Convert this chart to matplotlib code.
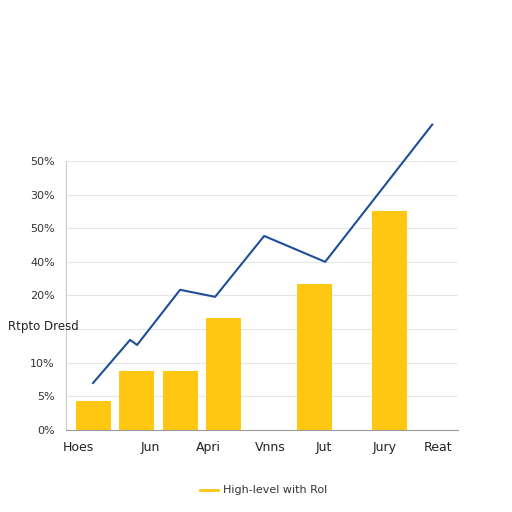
import matplotlib
matplotlib.use("Agg")
import matplotlib.pyplot as plt

ytick_labels = ["0%", "5%", "10%", "", "20%", "40%", "50%", "30%", "50%"]
xtick_labels = ["Hoes", "Jun", "Apri", "Vnns", "Jut", "Jury", "Reat"]
xtick_pos = [0.24, 1.68, 2.84, 4.08, 5.16, 6.36, 7.44]
bar_x = [0.54, 1.4, 2.28, 3.14, 4.96, 6.46]
bar_h = [0.86, 1.76, 1.76, 3.33, 4.35, 6.52]
line_x = [0.54, 1.28, 1.42, 2.28, 2.98, 3.96, 5.18, 7.32]
line_y = [1.4, 2.68, 2.53, 4.17, 3.96, 5.77, 5.0, 9.08]

fig = plt.figure(figsize=(5.12, 5.12), dpi=100)
ax = fig.add_axes([0.129, 0.16, 0.766, 0.598])
ax.set_xlim(0, 7.84)
ax.set_ylim(0, 9.1)
ax.set_yticks(range(9))
ax.set_yticklabels(ytick_labels, fontsize=8, color="#333")
ax.set_xticks(xtick_pos)
ax.set_xticklabels(xtick_labels, fontsize=9, color="#222")
ax.tick_params(length=0, pad=8)
for y in range(1, 9):
    ax.axhline(y, color="#e6e6e6", lw=0.8, zorder=0)
for s in ["top", "right"]:
    ax.spines[s].set_visible(False)
ax.spines["left"].set_bounds(0, 8)
ax.spines["left"].set_color("#cccccc")
ax.spines["bottom"].set_color("#999999")
ax.bar(bar_x, bar_h, width=0.7, color="#FFC712", zorder=2)
ax.plot(line_x, line_y, color="#1f4e99", lw=1.5, zorder=3, clip_on=False)
fig.text(0.015, 0.355, "Rtpto Dresd", fontsize=8.5, color="#222")
fig.lines.append(plt.Line2D([0.39, 0.425], [0.043, 0.043], color="#FFC712", lw=2, transform=fig.transFigure))
fig.text(0.435, 0.043, "High-level with Rol", fontsize=8, va="center", color="#333")
fig.savefig("out.png")
